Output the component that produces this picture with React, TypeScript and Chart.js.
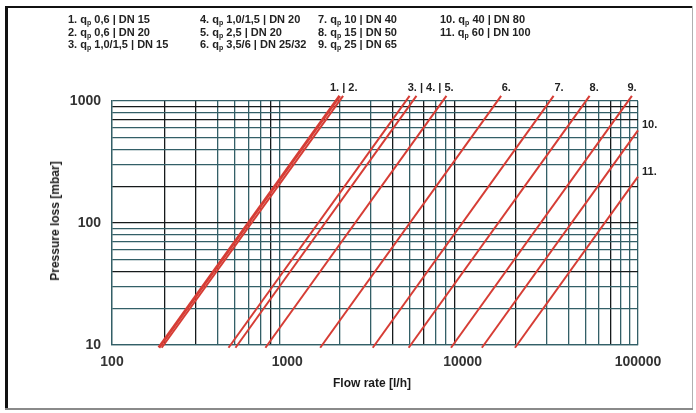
import React, { useEffect, useRef } from 'react';
import { Chart, registerables } from 'chart.js';

Chart.register(...registerables);

// ---- data ----
// lower end of each line: flow rate [l/h] and pressure loss [mbar]
const startFlow = [185, 192, 462, 506, 750, 1540, 3070, 4920, 8580, 12870, 19880];
const startLoss = [9.5, 9.5, 9.5, 9.5, 9.5, 9.5, 9.5, 9.5, 9.5, 9.5, 9.5];
// upper end of each line: flow rate [l/h] and pressure loss [mbar]
const endFlow = [1990, 2080, 4980, 5450, 8080, 16570, 33000, 52960, 92300, 100000, 100000];
const endLoss = [1100, 1100, 1100, 1100, 1100, 1100, 1100, 1100, 1100, 575, 240];

// legend texts
const legendNo = ['1.', '2.', '3.', '4.', '5.', '6.', '7.', '8.', '9.', '10.', '11.'];
const legendQp = ['0,6', '0,6', '1,0/1,5', '1,0/1,5', '2,5', '3,5/6', '10', '15', '25', '40', '60'];
const legendDn = ['15', '20', '15', '20', '20', '25/32', '40', '50', '65', '80', '100'];

// line end labels
const topLabels = ['1. | 2.', '3. | 4. | 5.', '6.', '7.', '8.', '9.'];
const topLabelFlow = [1750, 4860, 16700, 33400, 52900, 87100];
const sideLabels = ['10.', '11.'];
const sideLabelLoss = [636, 262];

// tick labels
const xLabeledTicks = [100, 1000, 10000, 100000];
const yLabeledTicks = [10, 100, 1000];
const minorSteps = [2, 3, 4, 5, 6, 7, 8, 9];

// ---- styles ----
const FONT = '"Liberation Sans", Arial, Helvetica, sans-serif';
const RED = '#d63d35';
const GRID = '#335f67';
const GRID_DARK = '#161a1b';
const xDarkGrid = [200, 300, 800, 4000, 6000, 9000, 20000, 70000];
const xHiddenGrid = [1000, 10000];
const yDarkGrid = [900, 700, 200, 100, 40];

function buildTicks(decades: number[]) {
  const out: number[] = [];
  decades.forEach((d, i) => {
    out.push(d);
    if (i < decades.length - 1) minorSteps.forEach((m) => out.push(d * m));
  });
  return out;
}

const xTicks = buildTicks(xLabeledTicks);
const yTicks = buildTicks(yLabeledTicks);

const lineLabelPlugin = {
  id: 'lineLabels',
  afterDatasetsDraw(chart: any) {
    const { ctx, chartArea, scales } = chart;
    ctx.save();
    ctx.font = `bold 11px ${FONT}`;
    ctx.fillStyle = '#222';
    ctx.textBaseline = 'middle';
    ctx.textAlign = 'left';
    topLabels.forEach((t, i) => {
      ctx.fillText(t, scales.x.getPixelForValue(topLabelFlow[i]), chartArea.top - 13);
    });
    sideLabels.forEach((t, i) => {
      ctx.fillText(t, chartArea.right + 4, scales.y.getPixelForValue(sideLabelLoss[i]));
    });
    ctx.restore();
  },
};

export default function App() {
  const ref = useRef<HTMLCanvasElement | null>(null);

  useEffect(() => {
    if (!ref.current) return;
    const datasets = startFlow.map((q, i) => ({
      label: legendNo[i],
      data: [
        { x: q, y: startLoss[i] },
        { x: endFlow[i], y: endLoss[i] },
      ],
      borderColor: RED,
      backgroundColor: RED,
      borderWidth: i === 0 ? 3 : 2,
      pointRadius: 0,
      tension: 0,
      fill: false,
      clip: false as any,
    }));

    const chart = new Chart(ref.current, {
      type: 'line',
      data: { datasets },
      plugins: [lineLabelPlugin],
      options: {
        animation: false,
        responsive: false,
        maintainAspectRatio: false,
        layout: { padding: { left: 0, top: 101, right: 58, bottom: 0 } },
        plugins: { legend: { display: false }, tooltip: { enabled: false } },
        scales: {
          x: {
            type: 'logarithmic',
            min: 100,
            max: 100000,
            afterBuildTicks: (s: any) => {
              s.ticks = xTicks.map((v) => ({ value: v }));
            },
            afterFit: (s: any) => {
              s.height = 68;
            },
            ticks: {
              autoSkip: false,
              maxRotation: 0,
              padding: 9,
              color: '#333',
              font: { family: FONT, size: 14, weight: 'bold' },
              callback: (v: any) => (xLabeledTicks.includes(Number(v)) ? String(v) : ''),
            },
            grid: {
              drawTicks: false,
              lineWidth: 1.3,
              color: (c: any) => {
                const v = c.tick ? c.tick.value : 0;
                if (xHiddenGrid.includes(v)) return 'rgba(0,0,0,0)';
                return xDarkGrid.includes(v) ? GRID_DARK : GRID;
              },
            },
            border: { display: true, color: GRID, width: 1.3 },
          },
          y: {
            type: 'logarithmic',
            min: 10,
            max: 1000,
            afterBuildTicks: (s: any) => {
              s.ticks = yTicks.map((v) => ({ value: v }));
            },
            afterFit: (s: any) => {
              s.width = 112;
            },
            ticks: {
              autoSkip: false,
              padding: 11,
              color: '#333',
              font: { family: FONT, size: 14, weight: 'bold' },
              callback: (v: any) => (yLabeledTicks.includes(Number(v)) ? String(v) : ''),
            },
            grid: {
              drawTicks: false,
              lineWidth: 1.3,
              color: (c: any) => {
                const v = c.tick ? c.tick.value : 0;
                return yDarkGrid.includes(v) ? GRID_DARK : GRID;
              },
            },
            border: { display: true, color: GRID, width: 1.3 },
          },
        },
      },
    });
    return () => chart.destroy();
  }, []);

  const colX = [68, 200, 318, 440];
  const rowTop = [13, 25.5, 38];

  return (
    <div
      style={{
        position: 'fixed',
        left: 0,
        top: 0,
        width: 696,
        height: 413,
        background: '#fff',
        fontFamily: FONT,
        overflow: 'hidden',
      }}
    >
      {/* frame */}
      <div style={{ position: 'absolute', left: 5, top: 6, width: 3, height: 404, background: '#111' }} />
      <div style={{ position: 'absolute', left: 5, top: 6, width: 688, height: 2, background: '#111' }} />
      <div style={{ position: 'absolute', left: 692, top: 6, width: 1, height: 404, background: '#b0b0b0' }} />
      <div style={{ position: 'absolute', left: 5, top: 408, width: 688, height: 2, background: '#8a8a8a' }} />

      <canvas
        ref={ref}
        width={696}
        height={413}
        style={{ position: 'absolute', left: 0, top: 0, width: 696, height: 413 }}
      />

      {/* legend */}
      {legendNo.map((n, i) => (
        <div
          key={n}
          style={{
            position: 'absolute',
            left: colX[Math.floor(i / 3)],
            top: rowTop[i % 3],
            fontSize: 11,
            lineHeight: '12px',
            fontWeight: 'bold',
            color: '#222',
            whiteSpace: 'nowrap',
          }}
        >
          {n} q<span style={{ fontSize: 7, position: 'relative', top: 2 }}>p</span> {legendQp[i]} | DN {legendDn[i]}
        </div>
      ))}

      {/* axis titles */}
      <div
        style={{
          position: 'absolute',
          left: 55,
          top: 221,
          transform: 'translate(-50%, -50%) rotate(-90deg)',
          fontSize: 12,
          fontWeight: 'bold',
          color: '#1a1a1a',
          whiteSpace: 'nowrap',
        }}
      >
        Pressure loss [mbar]
      </div>
      <div
        style={{
          position: 'absolute',
          left: 372,
          top: 383,
          transform: 'translate(-50%, -50%)',
          fontSize: 12,
          fontWeight: 'bold',
          color: '#1a1a1a',
          whiteSpace: 'nowrap',
        }}
      >
        Flow rate [l/h]
      </div>
    </div>
  );
}
